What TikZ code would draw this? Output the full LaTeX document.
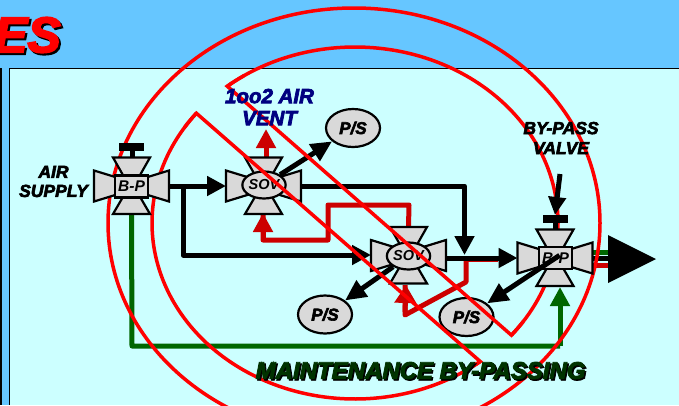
\documentclass[tikz,border=0pt]{standalone}
\usepackage{fontspec}
\usetikzlibrary{arrows.meta,shapes.geometric}
\newfontfamily\heavy{Liberation Sans Bold Italic}[FakeBold=3.5]
\newfontfamily\plainbi{Liberation Sans Bold Italic}
\definecolor{sky}{HTML}{66C6FF}
\definecolor{panelc}{HTML}{CCFFFF}
\definecolor{valvec}{HTML}{D9D9D9}
\definecolor{redp}{HTML}{CC0000}
\definecolor{grn}{HTML}{006600}
\definecolor{navyc}{HTML}{000080}
\definecolor{dgrn}{HTML}{003300}
\pgfdeclarelayer{lines}\pgfdeclarelayer{ring}\pgfdeclarelayer{over}\pgfdeclarelayer{labels}
\pgfsetlayers{lines,ring,main,over,labels}
\tikzset{
 wing/.style={draw=black,line width=2.2pt,fill=valvec,line join=miter},
 bpbox/.style={draw=black,line width=2.2pt,fill=valvec,rectangle,inner sep=0pt,minimum width=33pt,minimum height=22pt,font=\plainbi\fontsize{15.5}{15.5}\selectfont},
 sovbox/.style={draw=black,line width=2.2pt,fill=valvec,ellipse,inner sep=0pt,minimum width=39pt,minimum height=27pt,font=\plainbi\fontsize{14.5}{14.5}\selectfont},
 psbox/.style={draw=black,line width=2.2pt,fill=valvec,ellipse,inner sep=0pt,minimum width=54pt,minimum height=38pt,font=\heavy\fontsize{17}{17}\selectfont},
 blk/.style={draw=black,line width=5pt,line join=round},
 redl/.style={draw=redp,line width=5pt,line join=round},
 grnl/.style={draw=grn,line width=5pt,line join=round},
 tipA/.style={-{Triangle[length=19pt,width=19pt]}},
 ringl/.style={draw=red,line width=3.5pt},
 lbl/.style={align=center,inner sep=0pt},
}
\newcommand\valve[3]{%
 \begin{scope}[shift={(#2,#3)}]
  \draw[wing] (-13,-8)--(-37.5,-15.5)--(-37.5,15.5)--(-13,8)--cycle;
  \draw[wing] (13,-8)--(37.5,-15.5)--(37.5,15.5)--(13,8)--cycle;
  \draw[wing] (-8,-10)--(-18.5,-28.5)--(18.5,-28.5)--(8,-10)--cycle;
  \draw[wing] (-8,10)--(-18.5,28)--(18.5,28)--(8,10)--cycle;
  \coordinate (#1-l) at (-37.5,0);
  \coordinate (#1-r) at (37.5,0);
  \coordinate (#1-t) at (0,-28.5);
  \coordinate (#1-b) at (0,28);
 \end{scope}}
\newcommand\handle[3]{%
 \fill[black] (#2-2,#3-28) rectangle (#2+3,#3-38);
 \fill[black] (#2-12.5,#3-43) rectangle (#2+12.5,#3-35);
 \coordinate (#1-h) at (#2,#3-43);}
\begin{document}
\begin{tikzpicture}[x=1pt,y=-1pt]
\useasboundingbox (0,0) rectangle (679,405);
\begin{pgfonlayer}{lines}
\fill[sky] (0,0) rectangle (679,405);
\fill[black] (0,68) rectangle (2,405);
\fill[panelc] (9,68) rectangle (679,405);
\draw[black,line width=1.3pt] (679,68.5)--(9.5,68.5)--(9.5,405);
\node[anchor=east,inner sep=0pt,text=black] (titleshadow) at (63,37) {\heavy\fontsize{50}{50}\selectfont ES};
\node[anchor=east,inner sep=0pt,text=red] (title) at (61,35) {\heavy\fontsize{50}{50}\selectfont ES};
\end{pgfonlayer}
% valves
\valve{b1}{131.5}{186}
\handle{b1}{131.5}{186}
\node[bpbox] (bp1) at (131.5,186.5) {B-P};
\valve{s1}{263.5}{186}
\node[sovbox] (sv1) at (264,185) {SOV};
\valve{s2}{408.5}{255.5}
\node[sovbox] (sv2) at (408.5,256) {SOV};
\valve{b2}{555}{258}
\handle{b2}{555}{258}
\node[bpbox] (bp2) at (555.5,258) {B-P};
\node[psbox] (ps1) at (353,128) {P/S};
\node[psbox] (ps2) at (325,314.5) {P/S};
\node[psbox] (ps3) at (466.5,317) {P/S};
\coordinate (ventup) at (266,129);
\coordinate (j1) at (183,186);
\coordinate (j2) at (183,255);
\coordinate (j3) at (464.5,186);
\coordinate (j4) at (464.5,255);
\coordinate (r1) at (409,205);
\coordinate (r2) at (328,205);
\coordinate (r3) at (328,240);
\coordinate (r4) at (263,240);
\coordinate (r5) at (263,213);
\coordinate (q1) at (466,258);
\coordinate (q2) at (466,282);
\coordinate (q3) at (405,315);
\coordinate (q4) at (406,285);
\coordinate (q5) at (498,260.5);
\coordinate (g1) at (132,346);
\coordinate (g2) at (560,346);
\coordinate (g3) at (560,287);
\begin{pgfonlayer}{lines}
\draw[grnl] (b1-b) -- (g1) -- (g2);
\draw[grnl,tipA] (g2) -- (g3);
\draw[blk,tipA] (b1-r) -- (s1-l);
\draw[blk,tipA] (j1) -- (j2) -- (s2-l |- j2);
\draw[redl,line width=3pt] (q1 |- q5) -- (q5);
\draw[redl] (q1) -- (q2) -- (q3) -- (q3 |- q4);
\draw[redl,-{Triangle[length=18pt,width=21pt]}] (405,312) -- (q4);
\draw[blk,tipA] (s1-r) -- (j3) -- (j4);
\draw[blk,tipA] (s2-r |- b2-l) -- (b2-l);
\draw[redl] (s2-t) -- (r1) -- (r2) -- (r3) -- (r4) -- (r4 |- r5);
\draw[redl,tipA] (r4) -- (r5);
\draw[redl,tipA] (s1-t) ++(2.5,0) -- (ventup);
\coordinate (o1) at (593,252); \coordinate (o2) at (610,252);
\coordinate (o3) at (593,258.5); \coordinate (o4) at (610,258.5);
\coordinate (o5) at (593,265.5); \coordinate (o6) at (610,265.5);
\draw[grnl] (o1) -- (o2);
\draw[blk] (o3) -- (o4);
\draw[redl] (o5) -- (o6);
\end{pgfonlayer}
\begin{pgfonlayer}{ring}
\draw[ringl] (354,223) ellipse [x radius=246pt,y radius=215pt];
\draw[ringl] plot[domain=129:-39.6,samples=120] ({355+203*cos(\x)},{223-176*sin(\x)});
\draw[ringl] plot[domain=141.4:308.1,samples=120] ({355+203*cos(\x)},{223-176*sin(\x)});
\end{pgfonlayer}
% output arrow
\coordinate (bigtip) at (656,259);
\fill[black] (608,235) -- (bigtip) -- (608,283) -- cycle;
% sensor arrows
\draw[blk,-{Triangle[length=21pt,width=19pt]}] (sv1) -- (ps1);
\draw[blk,-{Triangle[length=21pt,width=19pt]}] (sv2) -- (ps2);
\draw[blk,-{Triangle[length=21pt,width=19pt]},shorten <=-26pt] (bp2) -- (ps3);
\coordinate (bypasstop) at (560,174);
\draw[blk,-{Triangle[length=18pt,width=17pt]}] (bypasstop) -- (b2-h);
\begin{pgfonlayer}{over}
\draw[ringl,line join=miter] plot[domain=123:129,samples=6] ({355+203*cos(\x)},{223-176*sin(\x)}) -- plot[domain=-39.6:-34,samples=6] ({355+203*cos(\x)},{223-176*sin(\x)});
\draw[ringl,line join=miter] plot[domain=147:141.4,samples=6] ({355+203*cos(\x)},{223-176*sin(\x)}) -- plot[domain=308.1:303,samples=6] ({355+203*cos(\x)},{223-176*sin(\x)});
\end{pgfonlayer}
\begin{pgfonlayer}{labels}
\node[lbl,text=black,font=\heavy\fontsize{17.5}{19}\selectfont] (airsup) at (53.5,181.5) {AIR\\SUPPLY};
\node[lbl,text=navyc,font=\heavy\fontsize{20.5}{22}\selectfont] (vent) at (269.5,107) {1oo2 AIR\\VENT};
\node[lbl,text=black,font=\heavy\fontsize{17.5}{20}\selectfont] (bypass) at (561,138) {BY-PASS\\VALVE};
\node[lbl,text=black,font=\heavy\fontsize{24}{24}\selectfont] (maintshadow) at (422,372) {MAINTENANCE BY-PASSING};
\node[lbl,text=dgrn,font=\heavy\fontsize{24}{24}\selectfont] (maint) at (420.5,370.5) {MAINTENANCE BY-PASSING};
\end{pgfonlayer}
\end{tikzpicture}
\end{document}
